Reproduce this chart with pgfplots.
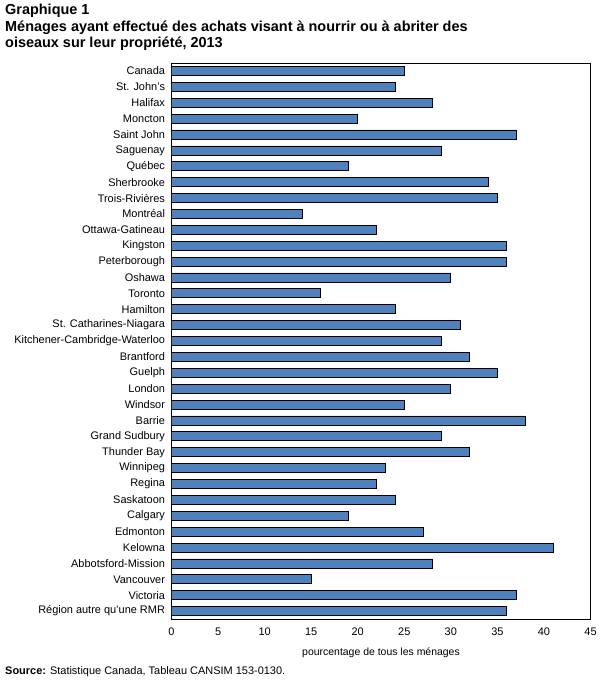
\documentclass[border=0pt]{standalone}
\usepackage{pgfplots}
\pgfplotsset{compat=1.18}
\usepackage{fontspec}
\setmainfont{Liberation Sans}
\definecolor{barblue}{RGB}{79,129,189}

\pgfplotstableread[col sep=comma]{
idx,value
0,25
1,24
2,28
3,20
4,37
5,29
6,19
7,34
8,35
9,14
10,22
11,36
12,36
13,30
14,16
15,24
16,31
17,29
18,32
19,35
20,30
21,25
22,38
23,29
24,32
25,23
26,22
27,24
28,19
29,27
30,41
31,28
32,15
33,37
34,36
}\datatable

\begin{document}
\begin{tikzpicture}[x=1bp,y=1bp]
\path[use as bounding box] (0,0) rectangle (607,682);
% Title
\node[anchor=north west, align=left, inner sep=0pt, font=\bfseries\fontsize{14.5}{16.5}\selectfont]
  at (5,678) {Graphique 1\\Ménages ayant effectué des achats visant à nourrir ou à abriter des\\oiseaux sur leur propriété, 2013};
\begin{axis}[
  at={(171.5bp,63bp)}, anchor=south west,
  scale only axis,
  width=419bp, height=556bp,
  xbar,
  bar width=9bp,
  xmin=0, xmax=45,
  xtick={0,5,...,45},
  ymin=-0.5, ymax=34.5,
  y dir=reverse,
  ytick={0,...,34},
  yticklabels={Canada,St. John's,Halifax,Moncton,Saint John,Saguenay,Québec,Sherbrooke,Trois-Rivières,Montréal,Ottawa-Gatineau,Kingston,Peterborough,Oshawa,Toronto,Hamilton,St. Catharines-Niagara,Kitchener-Cambridge-Waterloo,Brantford,Guelph,London,Windsor,Barrie,Grand Sudbury,Thunder Bay,Winnipeg,Regina,Saskatoon,Calgary,Edmonton,Kelowna,Abbotsford-Mission,Vancouver,Victoria,Région autre qu'une RMR},
  major tick length=0pt,
  tick label style={font=\fontsize{11}{12}\selectfont},
  /pgf/number format/assume math mode=true,
  xticklabel style={yshift=-5bp},
  yticklabel style={xshift=-3bp},
  xlabel={pourcentage de tous les ménages},
  xlabel style={font=\fontsize{10.5}{12}\selectfont, yshift=-6bp},
  axis line style={line width=0.8pt},
]
\addplot[fill=barblue, draw=black, line width=0.7pt] table[x=value, y=idx] {\datatable};
\end{axis}
\node[anchor=west, inner sep=0pt, font=\fontsize{11}{12}\selectfont] at (5,10)
  {\textbf{Source:} Statistique Canada, Tableau CANSIM 153-0130.};
\end{tikzpicture}
\end{document}
